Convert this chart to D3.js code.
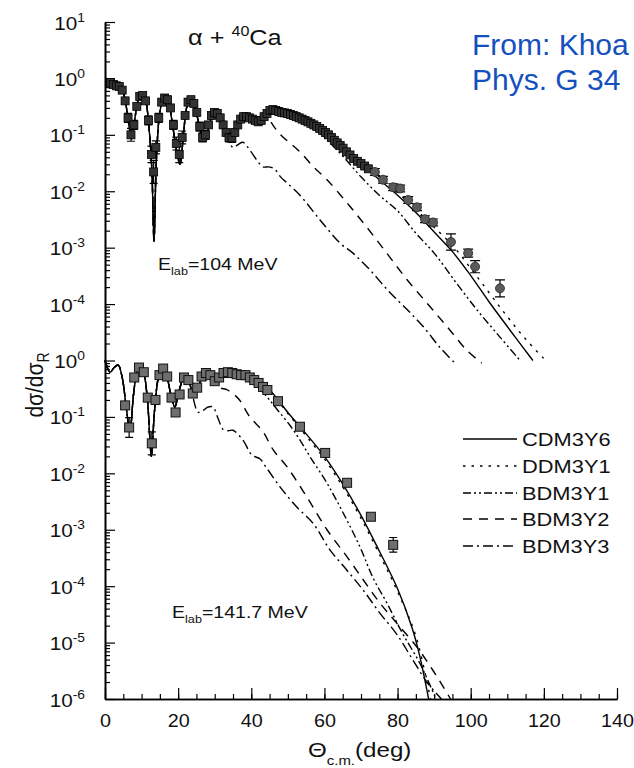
<!DOCTYPE html>
<html><head><meta charset="utf-8">
<script src="https://cdn.jsdelivr.net/npm/d3@7"></script>
<style>
html,body{margin:0;padding:0;background:#fff;}
svg{display:block;}
text{font-family:"Liberation Sans",Arial,Helvetica,sans-serif;fill:#111;}
</style></head><body>
<svg id="chart" width="634" height="768"></svg>
<script>
// ---------------- DATA ----------------
const seriesNames = ["CDM3Y6","DDM3Y1","BDM3Y1","BDM3Y2","BDM3Y3"];
const xTickValues = [0,20,40,60,80,100,120,140];

// upper panel: E_lab = 104 MeV  [theta, dsig/dsigR]
const fwd104 = [[0.3,1.0],[1.5,0.88],[2.7,0.76],[4.1,0.72],[5.3,0.48],[6.4,0.17],[7.3,0.085],[8.2,0.2],[9.1,0.42],[10.1,0.52],[11.1,0.4],[12.0,0.14],[12.8,0.025],[13.4,0.0013],[14.0,0.03],[14.8,0.2],[15.6,0.38],[16.4,0.45],[17.3,0.38],[18.3,0.18],[19.4,0.06],[20.5,0.03],[21.5,0.11],[22.3,0.3],[23.2,0.42],[24.2,0.36],[25.3,0.2],[26.3,0.11],[27.3,0.085],[28.3,0.13],[29.2,0.21],[30.1,0.25],[31.2,0.22],[32.3,0.15]];
const mid104 = [[33.5,0.1],[34.7,0.087],[36,0.13],[37.5,0.19],[38.8,0.21],[40.5,0.19],[42.4,0.17]];
const cdm3y6_104 = [[44.2,0.22],[46,0.28],[48,0.26],[50,0.25],[55,0.19],[60,0.11],[65,0.058],[70,0.03],[75,0.016],[80,0.0085],[85,0.0042],[90,0.0019],[95,0.00085],[100,0.00032],[105,0.00011],[110,0.00004],[117,0.00001]];
const ddm3y1_104 = [[44.2,0.22],[46,0.28],[48,0.265],[50,0.26],[55,0.2],[60,0.12],[65,0.065],[70,0.034],[75,0.018],[80,0.0095],[85,0.0048],[90,0.0023],[95,0.0011],[100,0.00043],[105,0.00016],[110,0.00006],[115,0.000024],[120.5,0.00001]];
const bdm3y1_104 = [[44.2,0.22],[46,0.28],[48,0.26],[50,0.24],[55,0.17],[60,0.09],[65,0.042],[70,0.018],[75,0.0085],[80,0.0045],[85,0.0018],[90,0.0008],[96,0.00024],[102,0.000075],[108,0.000026],[113.5,0.00001]];
const bdm3y2_104 = [[44.3,0.2],[46.2,0.14],[48,0.1],[50.5,0.072],[53.3,0.05],[57,0.027],[60.7,0.016],[66.2,0.0062],[71.6,0.0023],[77.1,0.00079],[82.6,0.00027],[88,0.000105],[93.5,0.00004],[99,0.000015],[103,0.000009]];
const bdm3y3_104 = [[33.5,0.09],[35,0.06],[36.5,0.068],[37.7,0.074],[39.5,0.055],[41.6,0.035],[43.2,0.027],[44.8,0.027],[46.3,0.025],[48,0.018],[49.8,0.014],[53.3,0.0085],[58.8,0.0031],[64.3,0.0012],[67.8,0.0008],[72.5,0.0004],[77.9,0.00016],[82.6,0.00008],[87,0.00004],[91.6,0.000017],[95.7,0.000009]];
// measured points [theta, value, error factor]
const exp104 = [[1.5,0.85,1.1],[2.3,0.78,1.1],[3.1,0.74,1.1],[3.9,0.72,1.1],[4.7,0.62,1.1],[5.5,0.4,1.1],[6.3,0.2,1.2],[7.1,0.1,1.3],[7.9,0.15,1.2],[8.7,0.32,1.1],[9.5,0.48,1.1],[10.3,0.5,1.1],[11.1,0.4,1.1],[11.9,0.18,1.2],[12.7,0.045,1.4],[13.3,0.022,1.6],[13.9,0.06,1.3],[14.7,0.2,1.2],[15.5,0.38,1.1],[16.3,0.45,1.1],[17.1,0.42,1.1],[17.9,0.3,1.1],[18.7,0.15,1.2],[19.5,0.07,1.3],[20.3,0.045,1.4],[21.1,0.09,1.3],[21.9,0.22,1.1],[22.7,0.38,1.1],[23.5,0.42,1.1],[24.3,0.36,1.1],[25.1,0.25,1.1],[25.9,0.14,1.2],[26.7,0.09,1.2],[27.5,0.1,1.2],[28.3,0.15,1.1],[29.1,0.22,1.1],[29.9,0.25,1.1],[30.7,0.24,1.1],[31.5,0.2,1.1],[32.3,0.15,1.1],[33.1,0.11,1.1],[33.9,0.09,1.2],[34.7,0.088,1.2],[35.5,0.11,1.1],[36.3,0.15,1.1],[37.1,0.19,1.1],[37.9,0.21,1.1],[38.7,0.21,1.1],[39.5,0.2,1.1],[40.3,0.19,1.1],[41.1,0.18,1.1],[41.9,0.17,1.1],[42.7,0.18,1.1],[43.5,0.21,1.1],[44.3,0.24,1.1],[45.1,0.27,1.1],[45.9,0.28,1.1],[46.7,0.27,1.1],[47.5,0.26,1.1],[48.3,0.25,1.1],[49.1,0.245,1.1],[49.9,0.24,1.1],[50.7,0.23,1.1],[51.5,0.22,1.1],[52.3,0.21,1.1],[53.1,0.2,1.1],[53.9,0.19,1.1],[54.7,0.18,1.1],[55.5,0.17,1.1],[56.3,0.16,1.1],[57.1,0.15,1.1],[57.9,0.14,1.1],[58.7,0.13,1.1],[59.5,0.12,1.1],[60.3,0.11,1.1],[61.1,0.1,1.1],[61.9,0.09,1.1],[62.7,0.08,1.1],[63.5,0.072,1.1],[64.3,0.065,1.1],[65.1,0.058,1.1],[66,0.05,1.1],[67,0.044,1.1],[68,0.038,1.1],[69,0.034,1.1],[70,0.031,1.1],[71,0.028,1.1],[72,0.025,1.1]];
const exp104far = [[73.8,0.022,1.15],[76,0.016,1.15],[78.8,0.0118,1.15],[80.7,0.0112,1.15],[82.9,0.007,1.15],[85.3,0.0052,1.15],[87.5,0.0032,1.15],[89.7,0.0028,1.15],[94.6,0.00126,1.39],[99.3,0.0008,1.18],[101.2,0.00046,1.28],[108,0.00019,1.41]];

// lower panel: E_lab = 141.7 MeV
const fwd141 = [[0,1.0],[1.4,0.62],[2.5,0.75],[3.6,0.83],[4.7,0.5],[5.8,0.15],[6.8,0.055],[7.8,0.25],[8.7,0.6],[9.6,0.77],[10.6,0.6],[11.6,0.2],[12.7,0.02],[13.5,0.12],[14.6,0.5],[15.6,0.74],[16.8,0.55],[18,0.25],[19.1,0.15],[20.3,0.3],[21.9,0.55],[23.0,0.42]];
const mid141 = [[24.1,0.27],[25.5,0.35],[27.3,0.6],[28.8,0.5]];
const cdm3y6_141 = [[30.1,0.42],[31.5,0.5],[33.5,0.6],[35,0.6],[37,0.55],[39,0.5],[41,0.43],[43,0.36],[45,0.3],[50,0.12],[55,0.05],[60,0.02],[65,0.0065],[70,0.0018],[75,0.00042],[80,0.00009],[84,0.000018],[86,0.000006],[88.5,0.000001]];
const ddm3y1_141 = [[30.1,0.42],[31.5,0.5],[33.5,0.6],[35,0.6],[37,0.55],[39,0.5],[41,0.43],[43,0.36],[45,0.29],[50,0.115],[55,0.046],[60,0.018],[65,0.0058],[70,0.0016],[75,0.00037],[80,0.00008],[85,0.000013],[89,0.000001]];
const bdm3y1_141 = [[30.1,0.42],[31.5,0.5],[33.5,0.6],[35,0.6],[37,0.55],[39,0.48],[41,0.38],[43.2,0.27],[45,0.2],[47.5,0.125],[50.5,0.072],[53,0.042],[56,0.02],[60.7,0.0067],[65.1,0.002],[69.7,0.0005],[73.3,0.00014],[77.1,0.00005],[81.5,0.000014],[86.1,0.0000043],[90.5,0.000001]];
const bdm3y2_141 = [[30.1,0.4],[31.4,0.33],[33.5,0.3],[36.5,0.21],[39.6,0.1],[43.2,0.055],[46,0.026],[49.8,0.013],[55.2,0.0038],[60.7,0.001],[66.2,0.00033],[70.6,0.00013],[75.2,0.00005],[79.8,0.000022],[85.3,0.0000083],[89.7,0.0000032],[94.5,0.000001]];
const bdm3y3_141 = [[24.1,0.22],[24.9,0.14],[25.6,0.12],[26.8,0.13],[28.2,0.15],[29.5,0.15],[30.9,0.095],[32.3,0.06],[33.7,0.057],[35,0.058],[37.7,0.039],[40.2,0.021],[42.4,0.018],[44,0.013],[47.9,0.0057],[52.5,0.0025],[56.9,0.0013],[61.5,0.00044],[66.2,0.00019],[70.6,0.000085],[75.2,0.000033],[79.8,0.000014],[84.2,0.0000049],[88,0.000002],[92,0.000001]];
const exp141 = [[5.5,0.16,1.15],[6.6,0.065,1.5],[8.0,0.5,1.1],[9.3,0.75,1.1],[10.6,0.62,1.1],[11.7,0.22,1.15],[12.8,0.034,1.6],[13.8,0.2,1.15],[14.9,0.55,1.1],[15.9,0.72,1.1],[17.0,0.52,1.1],[18.2,0.22,1.1],[19.3,0.12,1.15],[20.4,0.25,1.1],[21.6,0.5,1.1],[22.8,0.45,1.1],[24.0,0.26,1.1],[25.2,0.33,1.1],[26.4,0.52,1.1],[27.6,0.6,1.1],[28.8,0.55,1.1],[30.0,0.43,1.1],[31.2,0.5,1.1],[32.4,0.6,1.1],[33.6,0.62,1.1],[34.8,0.6,1.1],[36.0,0.57,1.1],[37.2,0.55,1.1],[38.4,0.55,1.1],[39.6,0.5,1.1],[40.8,0.45,1.1],[42.0,0.4,1.1],[43.2,0.34,1.1],[44.4,0.3,1.1],[47.3,0.19,1.1],[53.3,0.067,1.1],[60.2,0.023,1.1],[66.2,0.0068,1.1],[72.7,0.0017,1.1],[78.8,0.00054,1.35]];

// ---------------- CHART ----------------
const SX = 1.15;
const svg = d3.select('#chart');
const x = d3.scaleLinear().domain([0,140]).range([105,617]);
const yAxisScale = d3.scaleLog().domain([1e-6,1e6]).range([699,22]);
const yL = d3.scaleLog().domain([1e-6,1]).range([699, yAxisScale(1)]);
const yU = d3.scaleLog().domain([1e-4,10]).range([yAxisScale(10), 22]);

const dashes = {CDM3Y6:null, DDM3Y1:'2.5,6', BDM3Y1:'8,3,2,3,2,3', BDM3Y2:'9,7', BDM3Y3:'10,4,2,4'};

const upperCurves = {
  CDM3Y6: fwd104.concat(mid104, cdm3y6_104),
  DDM3Y1: fwd104.concat(mid104, ddm3y1_104),
  BDM3Y1: fwd104.concat(mid104, bdm3y1_104),
  BDM3Y2: fwd104.concat(mid104, bdm3y2_104),
  BDM3Y3: fwd104.concat(bdm3y3_104)
};
const lowerCurves = {
  CDM3Y6: fwd141.concat(mid141, cdm3y6_141),
  DDM3Y1: fwd141.concat(mid141, ddm3y1_141),
  BDM3Y1: fwd141.concat(mid141, bdm3y1_141),
  BDM3Y2: fwd141.concat(mid141, bdm3y2_141),
  BDM3Y3: fwd141.concat(bdm3y3_141)
};

// axes
const yMajor = d3.range(-6,7).map(e=>Math.pow(10,e));
const yMinor = [];
for (let e=-6;e<6;e++) for (let k=2;k<=9;k++) yMinor.push(k*Math.pow(10,e));
const gyMin = svg.append('g').attr('transform','translate(105,0)')
  .call(d3.axisLeft(yAxisScale).tickValues(yMinor).tickSizeInner(-5).tickSizeOuter(0).tickFormat(''));
const gy = svg.append('g').attr('transform','translate(105,0)')
  .call(d3.axisLeft(yAxisScale).tickValues(yMajor).tickSizeInner(-10).tickSizeOuter(0).tickFormat(''));
gy.selectAll('.tick text').remove();
gy.selectAll('.tick').each(function(d){
  const e = Math.round(Math.log10(d));
  const lab = e<=0 ? e : e-5;
  const t = d3.select(this).append('text')
    .attr('transform','translate(-20,7) scale('+SX+',1)')
    .attr('text-anchor','end').style('font-size','18px');
  t.append('tspan').text('10');
  t.append('tspan').attr('dy',-8).style('font-size','12px').text(String(lab));
});
const gxMin = svg.append('g').attr('transform','translate(0,699)')
  .call(d3.axisBottom(x).tickValues(d3.range(0,141,5)).tickSizeInner(-5).tickSizeOuter(0).tickFormat(''));
const gx = svg.append('g').attr('transform','translate(0,699)')
  .call(d3.axisBottom(x).tickValues(xTickValues).tickSizeInner(-11).tickSizeOuter(0).tickFormat(d3.format('d')));
gx.selectAll('.tick text').attr('y',null).attr('dy',null)
  .attr('transform','translate(0,28) scale(1.04,1)').style('font-size','19px').attr('fill','#111');
[gyMin,gy,gxMin,gx].forEach(g=>{
  g.attr('font-family',null).attr('font-size',null);
  g.selectAll('.tick line').attr('stroke','#000').attr('stroke-width',1.2);
  g.select('.domain').attr('stroke','#000').attr('stroke-width',1.6);
});

// curves
const lineU = d3.line().x(d=>x(d[0])).y(d=>yU(d[1])).curve(d3.curveCatmullRom.alpha(0.5));
const lineL = d3.line().x(d=>x(d[0])).y(d=>yL(d[1])).curve(d3.curveCatmullRom.alpha(0.5));
const gc = svg.append('g').attr('fill','none').attr('stroke','#000').attr('stroke-width',1.4);
seriesNames.forEach(n=>{
  gc.append('path').attr('d',lineU(upperCurves[n])).attr('stroke-dasharray',dashes[n]);
  gc.append('path').attr('d',lineL(lowerCurves[n])).attr('stroke-dasharray',dashes[n]);
});

// error bars + markers
function errBars(data, ys, cap){
  svg.append('g').selectAll('path').data(data).join('path')
    .attr('d',d=>{const x0=x(d[0]),y1=ys(d[1]*d[2]),y2=ys(d[1]/d[2]);
      return `M${x0},${y1}V${y2}M${x0-cap},${y1}h${2*cap}M${x0-cap},${y2}h${2*cap}`;})
    .attr('stroke','#000').attr('stroke-width',1.2).attr('fill','none');
}
errBars(exp104, yU, 4);
svg.append('g').selectAll('rect').data(exp104).join('rect')
  .attr('x',d=>x(d[0])-4).attr('y',d=>yU(d[1])-4).attr('width',8).attr('height',8)
  .attr('fill','#333').attr('stroke','#000').attr('stroke-width',0.8);
errBars(exp104far, yU, 5);
svg.append('g').selectAll('circle').data(exp104far).join('circle')
  .attr('cx',d=>x(d[0])).attr('cy',d=>yU(d[1])).attr('r',4.5)
  .attr('fill','#5a5a5a').attr('stroke','#222').attr('stroke-width',0.8);
errBars(exp141, yL, 4);
svg.append('g').selectAll('rect').data(exp141).join('rect')
  .attr('x',d=>x(d[0])-4.5).attr('y',d=>yL(d[1])-4.5).attr('width',9).attr('height',9)
  .attr('fill','#6e6e6e').attr('stroke','#111').attr('stroke-width',1);

// texts
function stext(xp, yp, size){
  return svg.append('text').attr('transform',`translate(${xp},${yp}) scale(${SX},1)`).style('font-size',size+'px');
}
let t = stext(188,45,22);
t.append('tspan').text('\u03b1 + ');
t.append('tspan').attr('dy',-9).style('font-size','14px').text('40');
t.append('tspan').attr('dy',9).text('Ca');

t = stext(158,270,17);
t.append('tspan').text('E');
t.append('tspan').attr('dy',5).style('font-size','11px').text('lab');
t.append('tspan').attr('dy',-5).text('=104 MeV');

t = stext(172,618,17);
t.append('tspan').text('E');
t.append('tspan').attr('dy',5).style('font-size','11px').text('lab');
t.append('tspan').attr('dy',-5).text('=141.7 MeV');

t = stext(308,757,21);
t.append('tspan').text('\u0398');
t.append('tspan').attr('dy',8).style('font-size','13px').text('c.m.');
t.append('tspan').attr('dy',-8).text('(deg)');

t = svg.append('text').attr('transform',`translate(43,385) rotate(-90) scale(1,${SX})`)
  .attr('text-anchor','middle').style('font-size','21px');
t.append('tspan').text('d\u03c3/d\u03c3');
t.append('tspan').attr('dy',5).style('font-size','14px').text('R');

// legend
const legY = [439,466,493,519,546];
const gl = svg.append('g');
seriesNames.forEach((n,i)=>{
  gl.append('line').attr('x1',463).attr('x2',517).attr('y1',legY[i]).attr('y2',legY[i])
    .attr('stroke','#000').attr('stroke-width',1.4).attr('stroke-dasharray',dashes[n]);
  gl.append('text').attr('transform',`translate(522,${legY[i]+6.5}) scale(${SX},1)`)
    .style('font-size','19px').text(n);
});

// source note (visible part of the reference note)
svg.append('text').attr('x',472).attr('y',55).style('font-size','30px').style('fill','#1450be').text('From: Khoa');
svg.append('text').attr('x',472).attr('y',90).style('font-size','30px').style('fill','#1450be').text('Phys. G 34');
</script>
</body></html>
